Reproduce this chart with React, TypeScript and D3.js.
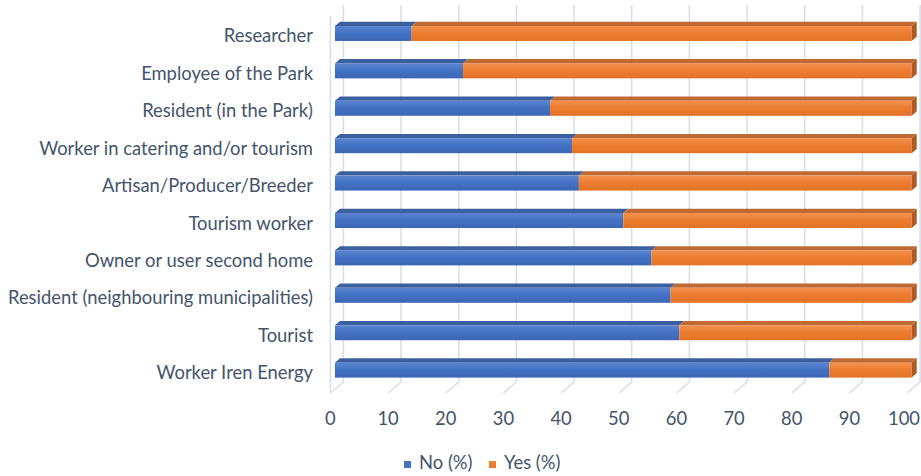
import React from 'react';
import * as d3 from 'd3';

const categories = [
  'Researcher',
  'Employee of the Park',
  'Resident (in the Park)',
  'Worker in catering and/or tourism',
  'Artisan/Producer/Breeder',
  'Tourism worker',
  'Owner or user second home',
  'Resident (neighbouring municipalities)',
  'Tourist',
  'Worker Iren Energy',
];
const noValues = [13.3, 22.2, 37.3, 41.1, 42.3, 50.0, 54.9, 58.2, 59.7, 85.7];
const yesValues = [86.7, 77.8, 62.7, 58.9, 57.7, 50.0, 45.1, 41.8, 40.3, 14.3];
const tickValues = [0, 10, 20, 30, 40, 50, 60, 70, 80, 90, 100];
const seriesNames = ['No (%)', 'Yes (%)'];

const W = 921;
const H = 476;
const DX = 13; // full depth offset (x)
const DY = 11; // full depth offset (y)
const F1 = 0.35; // bar front depth fraction
const F2 = 0.74; // bar back depth fraction
const TEXT = '#44546A';
const GRID = '#D9DDE4';
const FONT = 'Lato, "Open Sans", sans-serif';
const FS = 18.4;

const colors = {
  no: { front: ['#5a85d0', '#4472C4', '#3b66b4'], top: '#3c5f9f', side: '#2f5597' },
  yes: { front: ['#f5924f', '#ED7D31', '#e27226'], top: '#bf6a33', side: '#ae5a22' },
};

export default function App() {
  const x = d3.scaleLinear().domain([0, 100]).range([330.4, 907.1]);
  const y = d3
    .scaleBand<string>()
    .domain(categories)
    .range([26, 377.6])
    .paddingInner(0.6)
    .paddingOuter(0);
  const bw = y.bandwidth();
  const ddx = DX * (F2 - F1);
  const ddy = DY * (F2 - F1);
  const fx = (v: number) => x(v) + DX * F1;

  const backTop = 5;
  const backBottom = 382;

  const segs: { key: string; cat: string; s: number; e: number; c: typeof colors.no; last: boolean }[] = [];
  categories.forEach((cat, i) => {
    const n = noValues[i];
    const yv = yesValues[i];
    segs.push({ key: cat + '-no', cat, s: 0, e: n, c: colors.no, last: false });
    segs.push({ key: cat + '-yes', cat, s: n, e: n + yv, c: colors.yes, last: true });
  });

  return (
    <svg
      width={W}
      height={H}
      viewBox={`0 0 ${W} ${H}`}
      style={{ position: 'absolute', left: 0, top: 0, background: '#fff' }}
      fontFamily={FONT}
    >
      <defs>
        {(['no', 'yes'] as const).map((k) => (
          <linearGradient key={k} id={`grad-${k}`} x1="0" y1="0" x2="0" y2="1">
            <stop offset="0%" stopColor={colors[k].front[0]} />
            <stop offset="45%" stopColor={colors[k].front[1]} />
            <stop offset="100%" stopColor={colors[k].front[2]} />
          </linearGradient>
        ))}
      </defs>

      {/* left side wall edge */}
      <line x1={x(0)} y1={backTop + DY} x2={x(0)} y2={backBottom + DY} stroke={GRID} strokeWidth={1.5} />
      {/* gridlines on back wall + floor */}
      {tickValues.map((v) => (
        <polyline
          key={'g' + v}
          points={`${x(v) + DX},${backTop} ${x(v) + DX},${backBottom} ${x(v)},${backBottom + DY}`}
          fill="none"
          stroke={GRID}
          strokeWidth={1.5}
        />
      ))}

      {/* bars */}
      {segs.map((sg) => {
        const x0 = fx(sg.s);
        const x1 = fx(sg.e);
        const yt = y(sg.cat) as number;
        const yb = yt + bw;
        const k = sg.c === colors.no ? 'no' : 'yes';
        return (
          <g key={sg.key}>
            <polygon
              points={`${x0},${yt} ${x0 + ddx},${yt - ddy} ${x1 + ddx},${yt - ddy} ${x1},${yt}`}
              fill={sg.c.top}
            />
            <rect x={x0} y={yt} width={x1 - x0} height={bw} fill={`url(#grad-${k})`} />
            {sg.last && (
              <polygon
                points={`${x1},${yt} ${x1 + ddx},${yt - ddy} ${x1 + ddx},${yb - ddy} ${x1},${yb}`}
                fill={sg.c.side}
              />
            )}
          </g>
        );
      })}

      {/* category labels */}
      {categories.map((cat) => (
        <text
          key={'l' + cat}
          x={313}
          y={(y(cat) as number) + bw / 2 + 9}
          textAnchor="end"
          fontSize={FS}
          fill={TEXT}
        >
          {cat}
        </text>
      ))}

      {/* tick labels */}
      {tickValues.map((v, i) => {
        const isLast = i === tickValues.length - 1;
        return (
          <text
            key={'t' + v}
            x={isLast ? W - 1 : x(v)}
            y={425}
            textAnchor={isLast ? 'end' : 'middle'}
            fontSize={FS}
            fill={TEXT}
          >
            {v}
          </text>
        );
      })}

      {/* legend */}
      <g>
        <rect x={404} y={461} width={7} height={7} fill={colors.no.front[1]} />
        <text x={419} y={469} fontSize={FS} fill={TEXT}>
          {seriesNames[0]}
        </text>
        <rect x={489} y={461} width={7} height={7} fill={colors.yes.front[1]} />
        <text x={504} y={469} fontSize={FS} fill={TEXT}>
          {seriesNames[1]}
        </text>
      </g>
    </svg>
  );
}
